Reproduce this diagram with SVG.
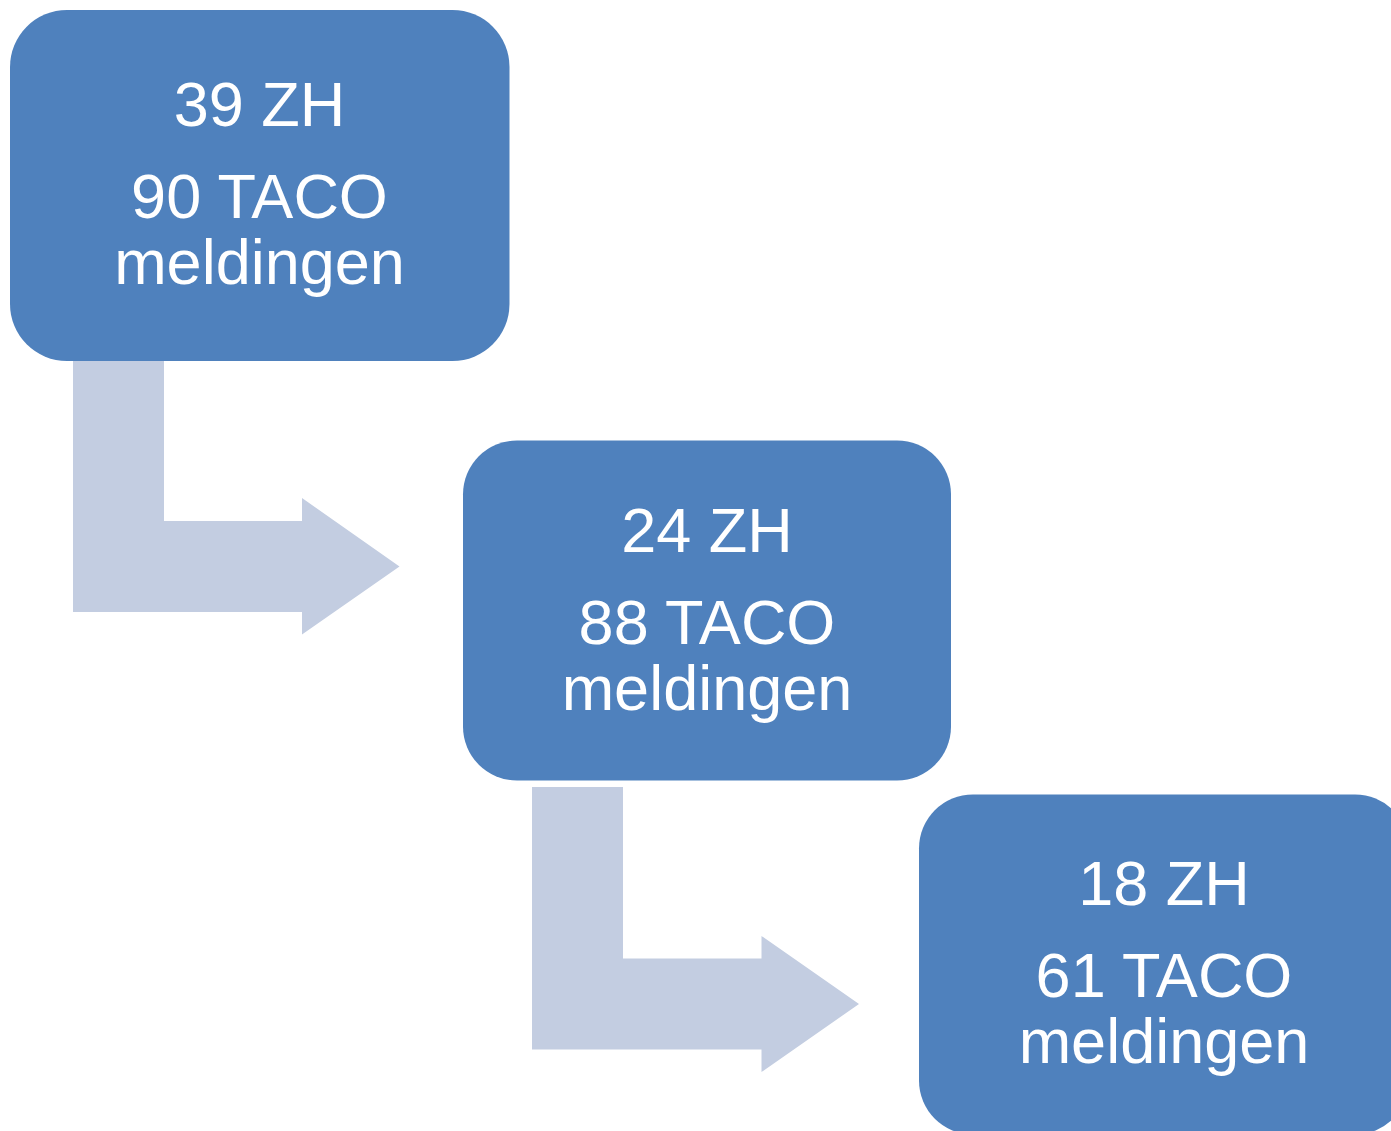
<svg xmlns="http://www.w3.org/2000/svg" width="1391" height="1131" viewBox="0 0 1391 1131">
<style>
.box{fill:#4F81BD}
.arrow{fill:#C3CDE1}
.t{font-family:"Liberation Sans",Arial,sans-serif;font-size:63px;fill:#FFFFFF;text-anchor:middle}
</style>
<rect width="1391" height="1131" fill="#FFFFFF"/>
<g id="connectors">
<path class="arrow" d="M73,361 L164,361 L164,521 L302,521 L302,498 L399.5,566.5 L302,634.5 L302,612 L73,612 Z"/>
<path class="arrow" d="M532,787 L623,787 L623,958.5 L761.5,958.5 L761.5,936 L859,1004 L761.5,1072 L761.5,1049.5 L532,1049.5 Z"/>
</g>
<g id="node1">
<rect class="box" x="10" y="10" width="499.5" height="351" rx="57" ry="57"/>
<text class="t" x="259.5" y="126">39 ZH</text>
<text class="t" x="259.5" y="217.5">90 TACO</text>
<text class="t" x="259.5" y="284">meldingen</text>
</g>
<g id="node2">
<rect class="box" x="463" y="440.5" width="488" height="340" rx="54" ry="54"/>
<text class="t" x="707" y="552">24 ZH</text>
<text class="t" x="707" y="643.5">88 TACO</text>
<text class="t" x="707" y="710">meldingen</text>
</g>
<g id="node3">
<rect class="box" x="919" y="794.5" width="490" height="340" rx="54" ry="54"/>
<text class="t" x="1164" y="905">18 ZH</text>
<text class="t" x="1164" y="997">61 TACO</text>
<text class="t" x="1164" y="1063">meldingen</text>
</g>
</svg>
